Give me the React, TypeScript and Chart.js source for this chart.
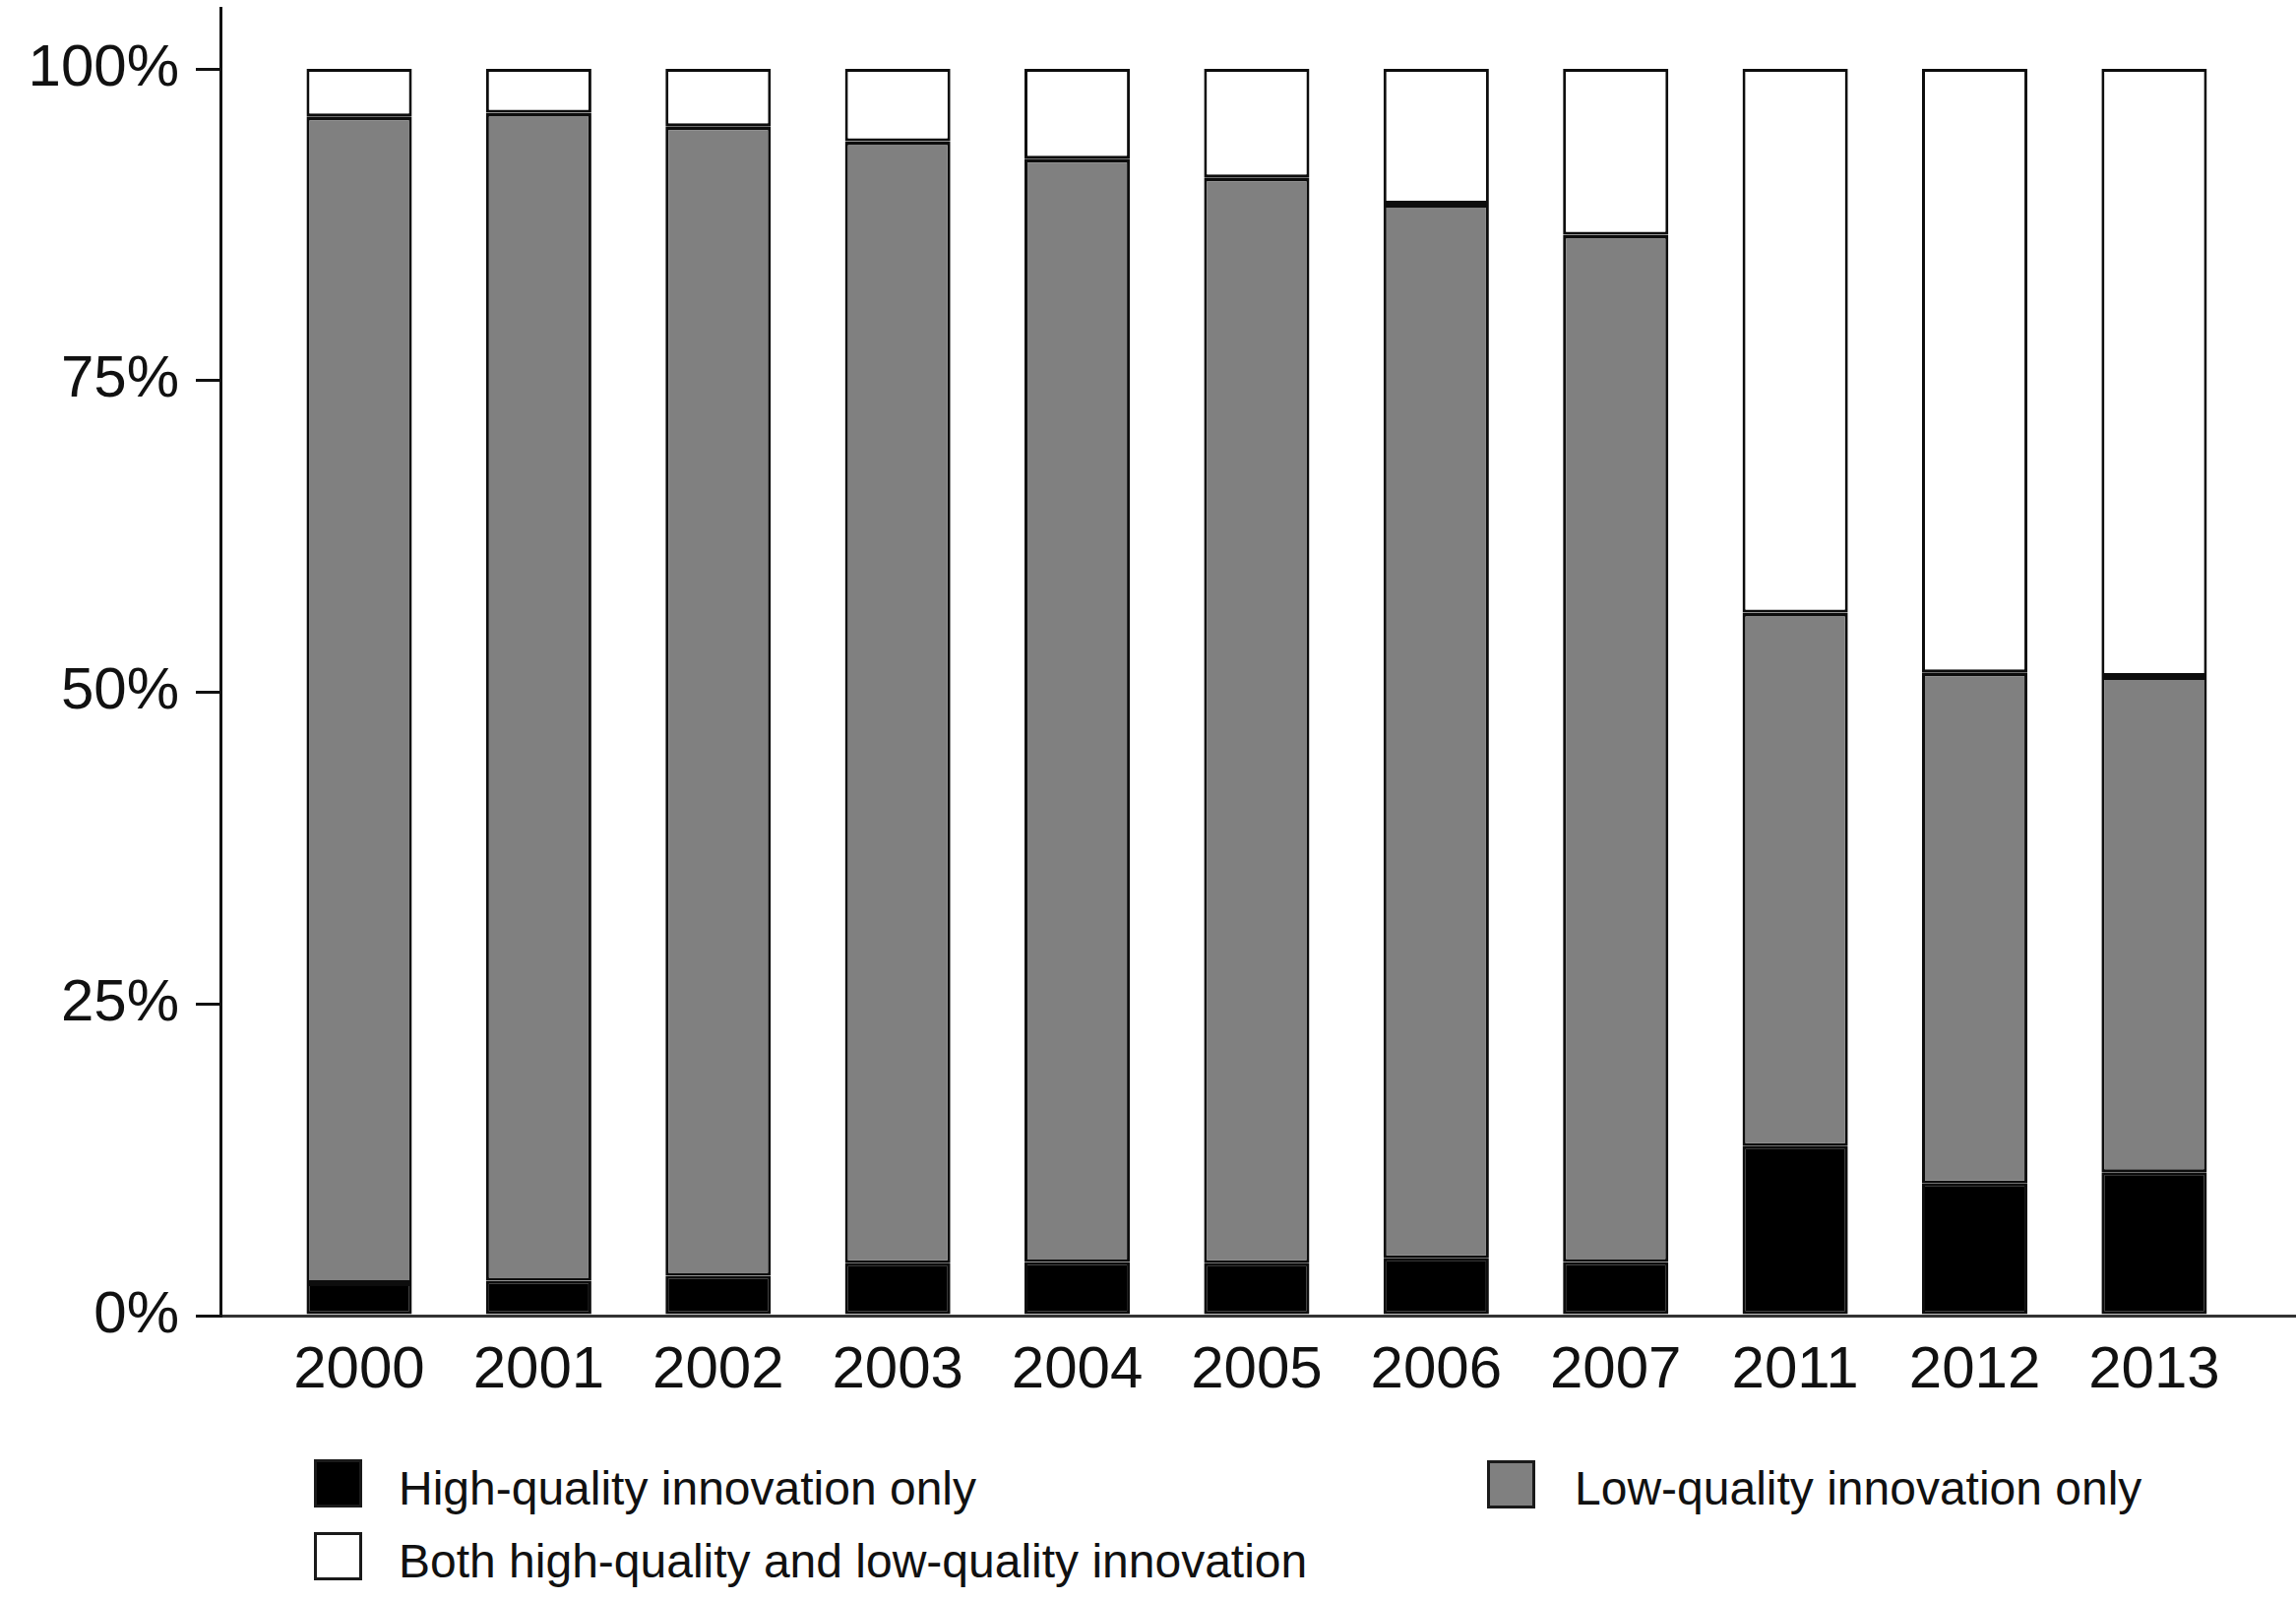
import React, { useEffect, useRef } from 'react';
import { Chart, registerables } from 'chart.js';

Chart.register(...registerables);

const years = ['2000', '2001', '2002', '2003', '2004', '2005', '2006', '2007', '2011', '2012', '2013'];
const highOnly = [2.6, 2.8, 3.2, 4.2, 4.3, 4.2, 4.6, 4.3, 13.6, 10.6, 11.5];
const lowOnly = [93.6, 93.7, 92.2, 90.0, 88.5, 87.1, 84.6, 82.4, 42.8, 41.0, 39.8];
const bothHighLow = [3.8, 3.5, 4.6, 5.8, 7.2, 8.7, 10.8, 13.3, 43.6, 48.4, 48.7];
const yTicks = [0, 25, 50, 75, 100];
const seriesLabels = [
  'High-quality innovation only',
  'Low-quality innovation only',
  'Both high-quality and low-quality innovation',
];
const seriesColors = ['#000000', '#808080', '#ffffff'];
const seriesTopBorder = [3, 4, 3];

const FONT = '"Liberation Sans", Arial, Helvetica, sans-serif';
const W = 2333;
const H = 1421;

const legendSlots = [
  { box: [319, 1483], text: [405, 1489] },
  { box: [1511, 1484], text: [1600, 1489] },
  { box: [319, 1557], text: [405, 1563] },
];

export default function App() {
  const ref = useRef<HTMLCanvasElement | null>(null);

  useEffect(() => {
    if (!ref.current) return;
    const series = [highOnly, lowOnly, bothHighLow];
    const chart = new Chart(ref.current, {
      type: 'bar',
      data: {
        datasets: series.map((vals, k) => ({
          label: seriesLabels[k],
          data: vals.map((v, i) => ({ x: i, y: v })),
          backgroundColor: seriesColors[k],
          borderColor: '#0d0d0d',
          borderWidth: { top: seriesTopBorder[k], bottom: 3, left: 3, right: 3 },
          borderSkipped: false,
          inflateAmount: 0,
          categoryPercentage: 1,
          barPercentage: 0.587,
        })),
      },
      options: {
        animation: false,
        responsive: false,
        devicePixelRatio: 1,
        layout: { padding: { top: 8, left: 0, right: 0, bottom: 0 } },
        plugins: {
          legend: { display: false },
          tooltip: { enabled: false },
        },
        scales: {
          x: {
            type: 'linear',
            stacked: true,
            offset: false,
            min: -0.773,
            max: 10.79,
            grid: { display: false, drawTicks: false, offset: false },
            border: { display: true, color: '#333333', width: 3 },
            afterBuildTicks: (s: any) => {
              s.ticks = years.map((_, i) => ({ value: i }));
            },
            afterFit: (s: any) => {
              s.height = 84;
              s.paddingLeft = 0;
              s.paddingRight = 0;
            },
            ticks: {
              autoSkip: false,
              maxRotation: 0,
              padding: 20,
              color: '#111111',
              font: { family: FONT, size: 60 },
              callback: (v: any) => years[v as number] ?? '',
            },
          },
          y: {
            type: 'linear',
            stacked: true,
            min: 0,
            max: 104.9,
            afterBuildTicks: (s: any) => {
              s.ticks = yTicks.map((v) => ({ value: v }));
            },
            afterFit: (s: any) => {
              s.width = 224;
              s.paddingTop = 0;
              s.paddingBottom = 0;
            },
            grid: {
              drawOnChartArea: false,
              drawTicks: true,
              tickLength: 25,
              color: '#111111',
              lineWidth: 3,
            },
            border: { display: true, color: '#111111', width: 3 },
            ticks: {
              padding: 17,
              color: '#111111',
              font: { family: FONT, size: 60 },
              callback: (v: any) => `${v}%`,
            },
          },
        },
      },
    } as any);
    return () => chart.destroy();
  }, []);

  return (
    <div
      style={{
        position: 'absolute',
        left: 0,
        top: 0,
        width: W,
        height: 1626,
        background: '#ffffff',
        fontFamily: FONT,
      }}
    >
      <canvas ref={ref} width={W} height={H} style={{ display: 'block', width: W, height: H }} />
      {seriesLabels.map((label, k) => (
        <React.Fragment key={label}>
          <div
            style={{
              position: 'absolute',
              left: legendSlots[k].box[0],
              top: legendSlots[k].box[1],
              width: 49,
              height: 49,
              boxSizing: 'border-box',
              border: '3px solid #1a1a1a',
              background: seriesColors[k],
            }}
          />
          <div
            style={{
              position: 'absolute',
              left: legendSlots[k].text[0],
              top: legendSlots[k].text[1],
              fontSize: 48,
              lineHeight: '48px',
              color: '#111111',
              whiteSpace: 'nowrap',
            }}
          >
            {label}
          </div>
        </React.Fragment>
      ))}
    </div>
  );
}
